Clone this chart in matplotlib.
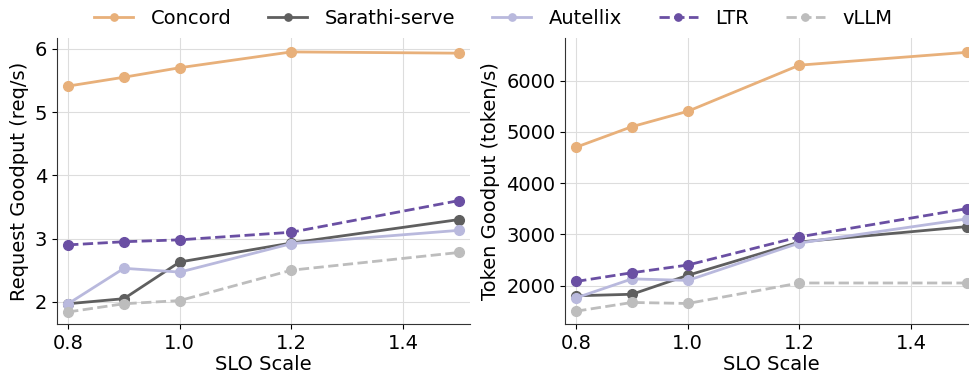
import numpy as np
from matplotlib import pyplot as plt

plt.rcParams['font.family'] = ['DejaVu Sans']
plt.rcParams['font.size'] = 14

slo_scale = [0.8, 0.9, 1.0, 1.2, 1.5]
systems = ["Concord", "Sarathi-serve", "Autellix", "LTR", "vLLM"]

# request goodput (req/s)
req_concord = [5.41, 5.55, 5.70, 5.95, 5.93]
req_sarathi = [1.97, 2.05, 2.63, 2.93, 3.30]
req_autellix = [1.97, 2.53, 2.47, 2.92, 3.13]
req_ltr = [2.90, 2.95, 2.98, 3.10, 3.60]
req_vllm = [1.84, 1.97, 2.02, 2.50, 2.78]

# token goodput (token/s)
tok_concord = [4700, 5100, 5400, 6300, 6550]
tok_sarathi = [1800, 1830, 2200, 2850, 3150]
tok_autellix = [1760, 2130, 2100, 2830, 3300]
tok_ltr = [2080, 2250, 2400, 2950, 3500]
tok_vllm = [1500, 1670, 1650, 2050, 2050]

colors = ["#E8B07A", "#5F5F5F", "#B9B9DD", "#6A4FA3", "#BDBDBD"]
styles = ["-", "-", "-", "--", "--"]

fig = plt.figure(figsize=(9.69, 3.78), dpi=100)
ax1 = fig.add_axes([0.0588, 0.1429, 0.4262, 0.7566])
ax2 = fig.add_axes([0.5831, 0.1429, 0.4262, 0.7566])

req_data = [req_concord, req_sarathi, req_autellix, req_ltr, req_vllm]
tok_data = [tok_concord, tok_sarathi, tok_autellix, tok_ltr, tok_vllm]

handles = []
for ax, data, ylabel in [(ax1, req_data, "Request Goodput (req/s)"),
                         (ax2, tok_data, "Token Goodput (token/s)")]:
    for y, label, c, ls in zip(data, systems, colors, styles):
        h, = ax.plot(slo_scale, y, ls, color=c, marker="o", markersize=7,
                     linewidth=2, label=label)
        if ax is ax1:
            handles.append(h)
    ax.set_xlim(0.78, 1.52)
    ax.set_xticks([0.8, 1.0, 1.2, 1.4])
    ax.set_xlabel("SLO Scale", labelpad=2)
    ax.set_ylabel(ylabel, labelpad=4)
    ax.grid(True, color="#dddddd", linewidth=0.8)
    ax.set_axisbelow(True)
    ax.spines["top"].set_visible(False)
    ax.spines["right"].set_visible(False)
    ax.spines["left"].set_color("#333333")
    ax.spines["bottom"].set_color("#333333")

ax1.set_ylim(1.65, 6.17)
ax1.set_yticks([2, 3, 4, 5, 6])
ax2.set_ylim(1250, 6830)
ax2.set_yticks([2000, 3000, 4000, 5000, 6000])

fig.legend(handles=handles, labels=systems, loc="upper center", ncol=5,
           frameon=False, bbox_to_anchor=(0.509, 1.022), markerscale=0.75,
           handlelength=2.0, handletextpad=0.9, columnspacing=1.9)

fig.savefig("out.png", dpi=100)
